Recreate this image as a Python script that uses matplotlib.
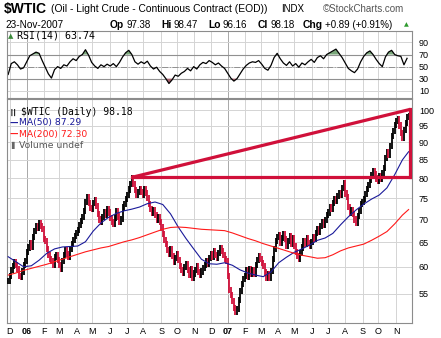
import numpy as np
import pandas as pd
import matplotlib
matplotlib.use('Agg')
import matplotlib.pyplot as plt
from matplotlib.ticker import NullLocator

start = '2005-11-29'
end = '2007-11-23'

# closing prices, one every second trading day
close = [
    57.3, 58.2, 59.4, 60.2, 61.0, 60.4, 59.6, 58.3, 58.0, 59.1, 60.3, 61.2,   # Dec 05
    63.0, 63.9, 64.8, 64.0, 66.2, 67.5, 68.6, 68.0, 69.3, 68.6, 67.8,         # Jan 06
    65.6, 65.2, 63.6, 62.4, 61.5, 61.2, 60.4, 61.9, 62.3, 61.4,               # Feb
    60.3, 59.6, 61.2, 62.3, 63.4, 62.6, 62.0, 63.6, 64.6, 65.4, 66.4, 66.9,   # Mar
    67.7, 68.8, 69.7, 70.6, 72.0, 74.2, 75.3, 73.8, 72.7, 72.4,               # Apr
    73.8, 74.6, 73.1, 71.2, 70.0, 69.4, 70.5, 71.7, 71.0, 72.5, 71.6,         # May
    70.3, 69.4, 68.9, 70.4, 71.9, 70.7, 69.5, 70.2, 72.8, 73.6, 74.8,         # Jun
    75.8, 77.2, 78.6, 80.0, 78.5, 77.1, 75.9, 76.6, 77.3, 76.5, 75.8,         # Jul
    77.2, 76.4, 75.0, 73.6, 72.4, 71.6, 72.2, 71.0, 70.0, 70.6, 69.5,         # Aug
    68.2, 66.8, 65.5, 64.6, 63.4, 62.6, 63.5, 62.2, 61.0, 61.8, 62.6,         # Sep
    61.4, 60.2, 59.3, 58.8, 59.9, 60.6, 59.4, 58.5, 59.6, 57.9, 58.7,         # Oct
    59.3, 60.2, 59.0, 58.4, 59.1, 59.8, 60.4, 61.2, 60.6, 61.8, 62.5,         # Nov
    62.0, 63.1, 62.4, 61.7, 62.7, 63.8, 63.2, 62.3, 61.6, 61.1,               # Dec
    58.3, 55.6, 54.8, 53.6, 52.5, 51.8, 52.3, 53.9, 55.4, 56.8, 57.6,         # Jan 07
    58.2, 59.3, 58.1, 59.6, 58.7, 59.4, 58.6, 60.3, 61.4, 62.2, 61.6,         # Feb
    60.8, 60.1, 58.9, 57.9, 58.6, 57.8, 59.2, 61.5, 63.6, 65.2, 66.1,         # Mar
    66.6, 64.8, 65.9, 66.8, 65.6, 64.2, 65.2, 66.4, 64.6, 65.9,               # Apr
    64.2, 63.0, 62.1, 61.6, 62.8, 63.9, 65.3, 64.6, 65.8, 64.9, 64.3, 65.1,   # May
    66.2, 65.6, 66.9, 67.8, 67.2, 68.5, 69.4, 68.8, 69.9, 71.0,               # Jun
    71.6, 72.9, 72.4, 73.8, 74.9, 74.3, 75.6, 76.4, 75.8, 77.5, 78.8,         # Jul
    76.2, 75.4, 73.0, 71.6, 72.2, 71.3, 70.0, 69.3, 70.8, 71.9, 73.6, 74.1,   # Aug
    74.8, 76.0, 77.3, 78.4, 79.6, 80.8, 81.9, 81.2, 80.0, 79.3,               # Sep
    80.6, 79.8, 81.3, 82.8, 85.6, 87.3, 86.4, 88.9, 91.8, 93.4, 95.2,         # Oct
    96.4, 97.2, 95.1, 92.8, 91.2, 93.6, 95.9, 97.8, 98.18,                    # Nov
]

# moving averages, every 10 trading days plus the last day
ma50 = [62.0, 61.0, 60.0, 60.2, 61.3, 62.7, 63.6, 64.0, 64.1, 64.2,
        65.1, 67.4, 69.2, 70.5, 71.4, 72.0, 72.4, 72.9, 73.7, 74.1,
        73.5, 71.3, 68.3, 65.8, 63.6, 61.5, 60.6, 60.5, 60.8, 60.3,
        59.4, 58.8, 58.4, 58.1, 59.0, 60.8, 61.9, 62.9, 63.6, 64.4,
        65.4, 65.9, 66.9, 68.8, 70.6, 72.2, 73.6, 74.8, 75.8, 77.6,
        81.0, 85.0, 87.29]
ma200 = [58.4, 58.8, 59.3, 59.7, 60.1, 60.5, 61.0, 61.5, 62.0, 62.5,
         63.0, 63.4, 63.8, 64.1, 64.6, 65.1, 65.5, 66.0, 66.6, 67.2,
         67.8, 68.2, 68.3, 68.2, 68.0, 67.8, 67.7, 67.6, 67.5, 67.0,
         66.4, 65.8, 65.3, 64.7, 64.2, 63.7, 63.2, 62.7, 62.3, 62.0,
         61.7, 61.8, 62.4, 63.2, 63.8, 64.2, 64.6, 65.4, 66.3, 67.3,
         69.0, 71.0, 72.30]

# RSI(14), every fourth trading day
rsi = [37, 55, 58, 53, 46, 48, 58, 68, 71, 74, 72, 60, 49, 38, 31, 45, 50, 47, 53, 51,
       58, 63, 60, 67, 70, 78, 69, 57, 51, 47, 53, 50, 54, 51, 55, 50, 57, 66, 73, 77,
       70, 58, 54, 58, 55, 59, 51, 46, 49, 42, 37, 30, 22, 28, 36, 34, 39, 42, 47, 43,
       50, 46, 53, 57, 55, 60, 57, 53, 56, 51, 47, 39, 31, 26, 30, 38, 46, 52, 56, 58,
       57, 60, 54, 47, 44, 52, 65, 72, 63, 56, 52, 58, 51, 55, 49, 56, 53, 58, 62, 57,
       65, 68, 63, 70, 73, 76, 79, 72, 65, 56, 47, 43, 40, 46, 58, 67, 73, 76, 70, 62,
       55, 50, 66, 74, 77, 70, 68, 67, 53, 63.74]

month_labels = ['D', '06', 'F', 'M', 'A', 'M', 'J', 'J', 'A', 'S', 'O', 'N',
                'D', '07', 'F', 'M', 'A', 'M', 'J', 'J', 'A', 'S', 'O', 'N']
price_ticks = [55, 60, 65, 70, 75, 80, 85, 90, 95, 100]
rsi_ticks = [10, 30, 50, 70, 90]

# hand drawn trend box
trend_dates = ['2006-07-11', '2007-11-27']
trend_prices = [80.3, 100.2]
box_floor = 80.3


def bday(d):
    d = pd.DatetimeIndex(pd.to_datetime(d)).values.astype('datetime64[D]')
    return np.busday_count(np.datetime64(start), d)


cx = bday(pd.bdate_range(start, end, freq='2B'))
ma_x = bday(list(pd.bdate_range(start, end, freq='10B')) + [pd.Timestamp(end)])
rx = cx[::2]
months = pd.date_range('2005-12-01', '2007-11-01', freq='MS')
mx = bday(months)
tx = bday(trend_dates)

RED = '#d0103a'
GRID = '#d4d4d4'
YEAR = '#a8a8a8'
EDGE = '#8c8c8c'

W, H = 441, 338
fig = plt.figure(figsize=(W / 100, H / 100), dpi=100)
ax_r = fig.add_axes([7 / W, 1 - 98 / H, 405 / W, 67 / H])
ax = fig.add_axes([7 / W, 1 - 323 / H, 405 / W, 224 / H], sharex=ax_r)

for a in (ax, ax_r):
    for s in a.spines.values():
        s.set_color(EDGE)
        s.set_linewidth(0.8)
    for m, x in zip(month_labels, mx):
        a.axvline(x, color=YEAR if m.isdigit() else GRID, lw=0.7, zorder=0)
    a.set_xlim(-1.5, 522.4)

# --- RSI panel
for t in rsi_ticks:
    ax_r.axhline(t, color=GRID, lw=0.7, zorder=0)
ax_r.axhline(70, color='#909090', lw=0.8, zorder=1)
ax_r.axhline(30, color='#909090', lw=0.8, zorder=1)
ax_r.axhline(50, color='#909090', lw=0.7, ls='-.', zorder=1)
r = np.array(rsi, dtype=float)
ax_r.fill_between(rx, 70, r, where=r > 70, interpolate=True, color='#7aa77a', lw=0)
ax_r.fill_between(rx, 30, r, where=r < 30, interpolate=True, color='#a8606c', lw=0)
ax_r.plot(rx, r, color='black', lw=0.9)
ax_r.set_ylim(-2, 109)
ax_r.yaxis.tick_right()
ax_r.set_yticks(rsi_ticks)
ax_r.set_yticklabels([str(t) for t in rsi_ticks], fontsize=6.5, family='Liberation Sans')
ax_r.tick_params(axis='y', length=0, pad=5)
ax_r.tick_params(axis='x', length=0, labelbottom=False)

# --- price panel
ax.set_yscale('log')
ax.set_ylim(49.96, 103.65)
for t in price_ticks:
    ax.axhline(t, color=GRID, lw=0.7, zorder=0)
c = np.array(close)
prev = np.r_[c[0], c[:-1]]
lo = np.minimum(prev, c) * 0.99
hi = np.maximum(prev, c) * 1.01
cols = np.where(c < prev, RED, 'black')
ax.vlines(cx, lo, hi, colors=cols, lw=1.3, zorder=3)
ax.plot(ma_x, ma50, color='#1a1a9a', lw=0.8, zorder=4)
ax.plot(ma_x, ma200, color='#ff1a1a', lw=0.8, zorder=4)

ax.plot(tx, trend_prices, color=RED, lw=2.3, zorder=5, solid_capstyle='butt')
ax.plot([tx[0], tx[1]], [box_floor, box_floor], color=RED, lw=2.3, zorder=5)
ax.plot([tx[1], tx[1]], [box_floor, trend_prices[1]], color=RED, lw=2.3, zorder=5)

ax.yaxis.tick_right()
ax.set_yticks(price_ticks)
ax.set_yticklabels([str(t) for t in price_ticks], fontsize=6.5, family='Liberation Sans')
ax.yaxis.set_minor_locator(NullLocator())
ax.tick_params(axis='y', which='both', length=0, pad=5)
ax.set_xticks(mx)
ax.set_xticklabels(month_labels, fontsize=6.5, family='Liberation Sans')
for lab in ax.get_xticklabels():
    if lab.get_text().isdigit():
        lab.set_fontweight('bold')
ax.tick_params(axis='x', length=0, pad=3)


def ftext(px, py, s, **kw):
    return fig.text(px / W, 1 - py / H, s, va='center', ha='left', **kw)


# header
ftext(4, 9, '$WTIC', fontsize=10, fontweight='bold', family='Liberation Sans')
ftext(51, 9, '(Oil - Light Crude - Continuous Contract (EOD))', fontsize=7.4,
      family='Liberation Sans')
ftext(281, 9, 'INDX', fontsize=7, family='Liberation Sans')
ftext(323, 9, '\u00a9StockCharts.com', fontsize=7, family='Liberation Sans', color='#555555')
ftext(5, 25, '23-Nov-2007', fontsize=7.2, family='Liberation Sans')

renderer = fig.canvas.get_renderer()
quote = [(110, 'Op', '97.38'), (161, 'Hi', '98.47'), (208, 'Lo', '96.16'),
         (258, 'Cl', '98.18'), (303, 'Chg', '+0.89 (+0.91%)')]
for px, lab, val in quote:
    t = ftext(px, 25, lab, fontsize=7.4, fontweight='bold', family='Liberation Sans')
    bb = t.get_window_extent(renderer)
    ftext(bb.x1 + 2, 25, val, fontsize=7.0, family='Liberation Sans')
ftext(404, 25, '\u25b2', fontsize=4.5, color='#2e9a2e')

# panel legends
ftext(8, 36, '\u25b2', fontsize=5, color='#3a8a3a')
ftext(17, 36, 'RSI(14) 63.74', fontsize=7.2, family='DejaVu Sans Mono')
ftext(10, 112, '\u2503\u2503', fontsize=4.5, color='black')
ftext(21, 112, '$WTIC (Daily) 98.18', fontsize=7.0, family='DejaVu Sans Mono')
ftext(10, 123, '\u2014', fontsize=6, color='#1a1a9a', fontweight='bold')
ftext(19, 123, 'MA(50) 87.29', fontsize=6.7, color='#1a1a9a')
ftext(10, 134, '\u2014', fontsize=6, color='#ff1a1a', fontweight='bold')
ftext(19, 134, 'MA(200) 72.30', fontsize=6.7, color='#ff1a1a')
ftext(11, 145, '\u258c', fontsize=5, color='#666666')
ftext(19, 145, 'Volume undef', fontsize=6.7, color='#555555')

fig.savefig('out.png', dpi=100)
